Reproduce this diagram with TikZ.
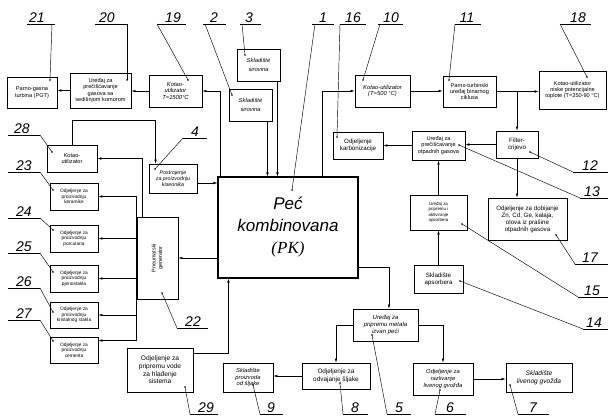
\documentclass[tikz,border=0pt]{standalone}
\usepackage{fontspec}
\setmainfont{Liberation Sans}
\newfontfamily\serifit{Liberation Serif}
\usetikzlibrary{arrows.meta,calc}
\newcommand\mkbox[7]{%
 \pgfmathsetmacro\mkbw{#4-#2}\pgfmathsetmacro\mkbh{#5-#3}%
 \pgfmathsetmacro\mkcx{(#2+#4)/2}\pgfmathsetmacro\mkcy{(#3+#5)/2}%
 \node[box,minimum width=\mkbw pt,minimum height=\mkbh pt,#6] (#1) at (\mkcx,\mkcy) {#7};}
\newcommand\mklbl[8]{%
 \node[lbl,anchor=base] at (#2,#5-1.5) {#1};
 \draw[conn] (#3,#5) -- (#4,#5);
 \draw[conn] (#6,#5) -- (#7,#8);
 \fill (#7,#8) circle (0.9);}
\begin{document}
\begin{tikzpicture}[x=1pt,y=-1pt,
  box/.style={draw,line width=0.9pt,inner sep=0.5pt,align=center,font=\fontsize{5.6}{6.3}\selectfont},
  ital/.style={font=\fontsize{5.8}{6.6}\selectfont\itshape},
  med/.style={font=\fontsize{6.2}{7}\selectfont},
  sml/.style={font=\fontsize{4.8}{5.4}\selectfont},
  conn/.style={line width=0.45pt},
  arr/.style={conn,-{Latex[length=4pt,width=2.6pt]}},
  lbl/.style={font=\fontsize{14}{14}\selectfont\itshape,inner sep=0pt}]
\useasboundingbox (0,0) rectangle (609,418);
% boxes
\mkbox{b21}{7}{77}{57}{108}{}{Parno-gasna\\turbina (PGT)}
\mkbox{b20}{70}{73}{131}{108}{}{Uređaj za\\prečišćavanje\\gasova sa\\sedišnjom komorom}
\mkbox{b19}{149}{75}{202}{107}{ital}{Kotao-\\utilizator\\T=1500°C}
\mkbox{b3}{237}{49}{280}{81}{ital}{Skladište\\[2pt]sirovina}
\mkbox{b2}{229}{89}{272}{121}{ital}{Skladište\\[2pt]sirovina}
\mkbox{b10}{355}{75}{410}{107}{ital}{Kotao-utilizator\\(T=500 °C)}
\mkbox{b11}{443}{76}{496}{107}{}{Parno-turbinski\\uređaj binarnog\\ciklusa}
\mkbox{b18}{539}{71}{606}{109}{}{Kotao-utilizator\\niske potencijalne\\toplote (T=350-90 °C)}
\mkbox{b16}{333}{132}{383}{159}{med}{Odjeljenje\\karbonizacije}
\mkbox{b13}{412}{131}{465}{160}{}{Uređaj za\\prečišćavanje\\otpadnih gasova}
\mkbox{b12}{496}{131}{538}{158}{med}{Filter-\\crijevo}
\mkbox{b17}{488}{198}{567}{240}{med}{Odjeljenje za dobijanje\\Zn, Cd, Ge, kalaja,\\olova iz prašine\\otpadnih gasova}
\mkbox{b15}{410}{195}{467}{230}{font=\fontsize{4.4}{5.4}\selectfont}{Uređaj za\\pripremu i\\aktiviranje\\apsorbera}
\mkbox{b14}{414}{265}{463}{293}{med}{Skladište\\apsorbera}
\mkbox{b1}{218}{177}{358}{278}{line width=1.1pt}{}
\node[align=center,font=\fontsize{17}{22}\selectfont\itshape] (t1) at (b1.center) {Peć\\kombinovana\\{\serifit (PK)}};
\mkbox{b4}{149}{164}{197}{193}{ital,font=\fontsize{5.3}{6.1}\selectfont\itshape}{Postrojenje\\za proizvodnju\\kiseonika}
\mkbox{b28}{47}{145}{97}{172}{}{Kotao-\\utilizator}
\mkbox{b23}{50}{183}{98}{210}{sml}{Odjeljenje za\\proizvodnju\\keramike}
\mkbox{b24}{50}{225}{98}{252}{sml}{Odjeljenje za\\proizvodnju\\porculana}
\mkbox{b25}{50}{265}{98}{292}{sml}{Odjeljenje za\\proizvodnju\\pjenostakla}
\mkbox{b26}{50}{302}{98}{328}{sml}{Odjeljenje za\\proizvodnju\\kristalnog stakla}
\mkbox{b27}{50}{337}{98}{363}{sml}{Odjeljenje za\\proizvodnju\\cementa}
\mkbox{b22}{137}{217}{178}{299}{}{}
\node[rotate=90,align=center,font=\fontsize{5.4}{6.4}\selectfont] (t22) at (b22.center) {Pneumatski\\generator};
\mkbox{b29}{127}{348}{193}{392}{med,font=\fontsize{6.6}{7.6}\selectfont}{Odjeljenje za\\pripremu vode\\za hlađenje\\sistema}
\mkbox{b5}{353}{309}{418}{341}{font=\fontsize{6}{6.8}\selectfont\itshape}{Uređaj za\\pripremu metala\\izvan peći}
\mkbox{b8}{302}{363}{370}{389}{font=\fontsize{6.4}{7.4}\selectfont}{Odjeljenje za\\odvajanje šljake}
\mkbox{b9}{223}{363}{273}{392}{font=\fontsize{5.8}{6.6}\selectfont\itshape}{Skladište\\proizvoda\\od šljake}
\mkbox{b6}{413}{363}{473}{395}{font=\fontsize{5.8}{6.6}\selectfont\itshape}{Odjeljenje za\\razlivanje\\livenog gvožđa}
\mkbox{b7}{506}{363}{572}{392}{font=\fontsize{6.6}{7.6}\selectfont\itshape}{Skladište\\livenog gvožđa}
% connectors top
\coordinate (p19) at ($(b1.north west)+(3,0)$);
\draw[arr] (p19) |- (b19.east);
\draw[arr] (b19.west) -- (b19.west -| b20.east);
\draw[arr] (b20.west) -- (b20.west -| b21.east);
\coordinate (p2) at ($(b2.south east)+(-5,0)$);
\draw[arr] (p2) -- (p2 |- b1.north);
\coordinate (p3) at ($(b3.south east)+(-3,0)$);
\draw[arr] (p3) -- (p3 |- b1.north);
\coordinate (p10) at ($(b1.north west)+(105,0)$);
\draw[arr] (p10) |- (b10.west);
\draw[arr] (b10.east) -- (b10.east -| b11.west);
\draw[arr] (b11.east) -- (b11.east -| b18.west);
\coordinate (br) at (b12.north |- b11.east);
\draw[arr] (br) -- (b12.north);
\draw[arr] (b12.west) -- (b12.west -| b13.east);
\draw[arr] (b13.west) -- (b13.west -| b16.east);
\draw[arr] (b12.south) -- (b12.south |- b17.north);
\draw[arr] (b14.north) -- (b15.south);
\draw[arr] (b15.north) -- (b13.south);
% bottom
\coordinate (r5) at ($(b1.south east)+(0,-11)$);
\coordinate (q5) at ($(b5.north)+(3.5,0)$);
\draw[arr] (r5) -| (q5);
\draw[arr] (b5.east) -| (b6.north);
\draw[arr] (b6.east) -- (b6.east -| b7.west);
\draw[arr] (b5.west) -| (b8.north);
\draw[arr] (b8.west) -- (b8.west -| b9.east);
\coordinate (s29) at ($(b29.north east)+(0,6)$);
\coordinate (t29) at ($(b1.south west)+(11,0)$);
\draw[arr] (s29) -| (t29);
% left
\coordinate (u4) at ($(b4.east)+(0,4.5)$);
\draw[arr] (u4) -- (u4 -| b1.west);
\draw[arr] (b22.east -| b1.west) -- (b22.east);
\coordinate (w28) at ($(b22.north west)+(6,0)$);
\draw[arr] (w28) |- (b28.east);
\coordinate (k28) at ($(b28.north)+(0,-24)$);
\coordinate (k4) at ($(b4.north west)+(7,0)$);
\draw[arr] (b28.north) -- (k28) -| (k4);
\coordinate (c27) at ($(b27.north east)+(0,4)$);
\draw[conn] (b23.east -| b22.west) -- (c27 -| b22.west);
\draw[arr] (b23.east -| b22.west) -- (b23.east);
\draw[arr] (b24.east -| b22.west) -- (b24.east);
\draw[arr] (b25.east -| b22.west) -- (b25.east);
\draw[arr] (b26.east -| b22.west) -- (b26.east);
\draw[arr] (c27 -| b22.west) -- (c27);
% labels
\mklbl{21}{37}{27}{55}{24}{52}{50}{80}
\mklbl{20}{107}{95}{128}{24}{127}{127}{80}
\mklbl{19}{173}{157}{186}{24}{157}{188}{80}
\mklbl{2}{214}{203}{226}{24}{205}{232}{95}
\mklbl{3}{249}{240}{261}{24}{242}{245}{55}
\mklbl{1}{323}{312}{334}{24}{315}{292}{190}
\mklbl{16}{353}{340}{366}{24}{340}{337}{137}
\mklbl{10}{391}{378}{403}{24}{380}{363}{80}
\mklbl{11}{467}{455}{481}{24}{455}{449}{80}
\mklbl{18}{578}{560}{591}{24}{560}{587}{77}
\mklbl{28}{22}{8}{40}{135}{40}{52}{152}
\mklbl{23}{24}{8}{40}{172}{40}{53}{190}
\mklbl{24}{24}{8}{40}{218}{40}{53}{230}
\mklbl{25}{24}{8}{40}{253}{40}{53}{272}
\mklbl{26}{24}{8}{40}{288}{40}{53}{312}
\mklbl{27}{24}{8}{40}{320}{40}{53}{341}
\mklbl{4}{195}{183}{207}{138}{183}{155}{169}
\mklbl{22}{193}{177}{208}{328}{177}{162}{293}
\mklbl{29}{206}{190}{218}{414}{190}{185}{387}
\mklbl{9}{271}{260}{283}{414}{260}{253}{385}
\mklbl{8}{355}{343}{368}{414}{343}{340}{383}
\mklbl{5}{399}{387}{411}{414}{387}{372}{335}
\mklbl{6}{450}{435}{466}{414}{435}{440}{390}
\mklbl{7}{533}{518}{549}{414}{518}{510}{385}
\mklbl{12}{590}{573}{608}{172}{573}{530}{152}
\mklbl{13}{592}{580}{608}{198}{580}{459}{145}
\mklbl{17}{590}{575}{608}{264}{575}{556}{235}
\mklbl{15}{592}{578}{608}{297}{578}{462}{224}
\mklbl{14}{594}{583}{608}{329}{583}{460}{281}
\end{tikzpicture}
\end{document}
